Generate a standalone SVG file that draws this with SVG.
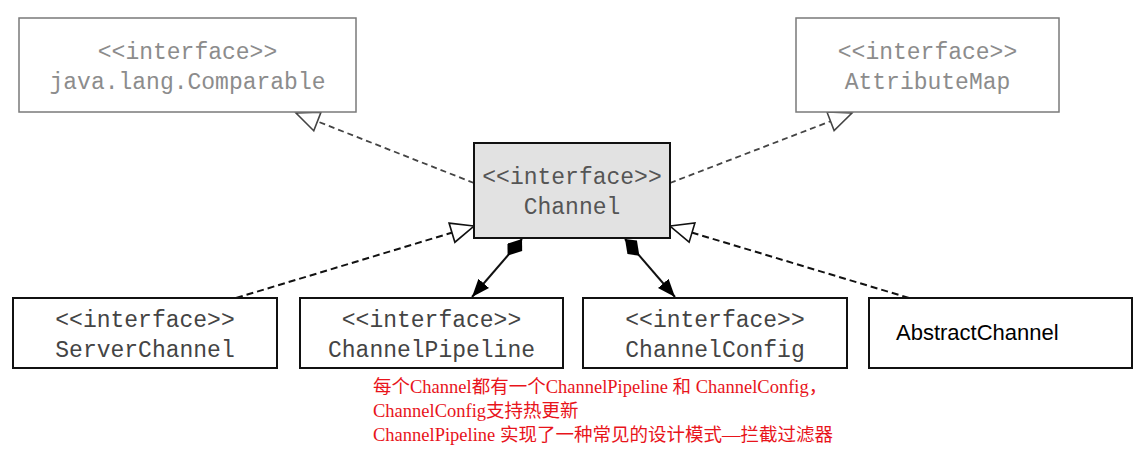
<svg xmlns="http://www.w3.org/2000/svg" width="1144" height="455" viewBox="0 0 1144 455">
<style>
.bg{fill:#ffffff}
.box-top{fill:#ffffff;stroke:#7a7a7a;stroke-width:1.5}
.box-main{fill:#e2e2e2;stroke:#111;stroke-width:2}
.box-bot{fill:#ffffff;stroke:#111;stroke-width:2}
.mono{font-family:"Liberation Mono","DejaVu Sans Mono",monospace;font-size:23px;text-anchor:middle}
.t-top{fill:#8c8c8c}
.t-main{fill:#555}
.t-bot{fill:#444}
.sans{font-family:"Liberation Sans",Arial,sans-serif;font-size:22px;fill:#000}
.note{font-family:"Liberation Serif","Noto Sans CJK SC",serif;font-size:18.5px;fill:#e8141b}
.dash-top{fill:none;stroke:#444;stroke-width:1.8;stroke-dasharray:6 4}
.dash-bot{fill:none;stroke:#111;stroke-width:2;stroke-dasharray:7 4}
.comp{fill:none;stroke:#111;stroke-width:2}
</style>
<defs>
<marker id="hollow" markerUnits="userSpaceOnUse" viewBox="-2 -2 28 26" markerWidth="28" markerHeight="26" refX="23" refY="10" orient="auto">
<path d="M0,0 L23,10 L0,20 z" fill="#fff" stroke="#444" stroke-width="1.6"/>
</marker>
<marker id="hollowB" markerUnits="userSpaceOnUse" viewBox="-2 -2 28 26" markerWidth="28" markerHeight="26" refX="23" refY="10" orient="auto">
<path d="M0,0 L23,10 L0,20 z" fill="#fff" stroke="#111" stroke-width="1.6"/>
</marker>
<marker id="filled" markerUnits="userSpaceOnUse" viewBox="0 0 18 14" markerWidth="18" markerHeight="14" refX="18" refY="7" orient="auto">
<path d="M0,0 L18,7 L0,14 z" fill="#000"/>
</marker>
<marker id="diamond" markerUnits="userSpaceOnUse" viewBox="0 0 22 16" markerWidth="22" markerHeight="16" refX="0" refY="8" orient="auto">
<path d="M0,8 L9,0 L22,8 L13,16 z" fill="#000"/>
</marker>
</defs>
<rect class="bg" x="0" y="0" width="1144" height="455"/>
<g id="connectors">
<line class="dash-top" x1="474" y1="183" x2="296" y2="113" marker-end="url(#hollow)"/>
<line class="dash-top" x1="670" y1="183" x2="852" y2="113" marker-end="url(#hollow)"/>
<line class="dash-bot" x1="236" y1="298" x2="474" y2="226" marker-end="url(#hollowB)"/>
<line class="dash-bot" x1="909" y1="298" x2="670" y2="226" marker-end="url(#hollowB)"/>
<line class="comp" x1="522" y1="239" x2="472" y2="297" marker-start="url(#diamond)" marker-end="url(#filled)"/>
<line class="comp" x1="625" y1="239" x2="675" y2="297" marker-start="url(#diamond)" marker-end="url(#filled)"/>
</g>
<g id="node-comparable">
<rect class="box-top" x="19" y="18" width="337" height="94"/>
<text class="mono t-top" x="187.5" y="59">&lt;&lt;interface&gt;&gt;</text>
<text class="mono t-top" x="187.5" y="89">java.lang.Comparable</text>
</g>
<g id="node-attributemap">
<rect class="box-top" x="796" y="18" width="263" height="94"/>
<text class="mono t-top" x="927.5" y="59">&lt;&lt;interface&gt;&gt;</text>
<text class="mono t-top" x="927.5" y="89">AttributeMap</text>
</g>
<g id="node-channel">
<rect class="box-main" x="474" y="143" width="196" height="95"/>
<text class="mono t-main" x="572" y="184">&lt;&lt;interface&gt;&gt;</text>
<text class="mono t-main" x="572" y="214">Channel</text>
</g>
<g id="node-serverchannel">
<rect class="box-bot" x="13" y="298" width="264" height="70"/>
<text class="mono t-bot" x="145" y="327">&lt;&lt;interface&gt;&gt;</text>
<text class="mono t-bot" x="145" y="357">ServerChannel</text>
</g>
<g id="node-channelpipeline">
<rect class="box-bot" x="300" y="298" width="263" height="70"/>
<text class="mono t-bot" x="431.5" y="327">&lt;&lt;interface&gt;&gt;</text>
<text class="mono t-bot" x="431.5" y="357">ChannelPipeline</text>
</g>
<g id="node-channelconfig">
<rect class="box-bot" x="583" y="298" width="264" height="70"/>
<text class="mono t-bot" x="715" y="327">&lt;&lt;interface&gt;&gt;</text>
<text class="mono t-bot" x="715" y="357">ChannelConfig</text>
</g>
<g id="node-abstractchannel">
<rect class="box-bot" x="869" y="298" width="263" height="70"/>
<text class="sans" x="896" y="340">AbstractChannel</text>
</g>
<g id="note">
<text class="note" x="373" y="393">每个Channel都有一个ChannelPipeline 和 ChannelConfig，</text>
<text class="note" x="373" y="417">ChannelConfig支持热更新</text>
<text class="note" x="373" y="441">ChannelPipeline 实现了一种常见的设计模式—拦截过滤器</text>
</g>
</svg>
